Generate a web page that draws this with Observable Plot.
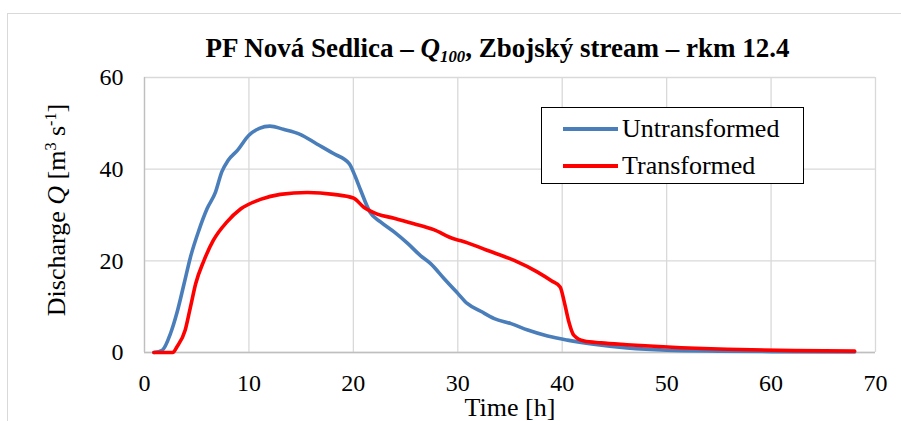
<!DOCTYPE html>
<html><head><meta charset="utf-8">
<script src="https://cdn.jsdelivr.net/npm/d3@7"></script>
<script src="https://cdn.jsdelivr.net/npm/@observablehq/plot@0.6"></script>
<style>
body{margin:0;background:#fff;}
#wrap{position:relative;width:901px;height:421px;overflow:hidden;font-family:"Liberation Serif","Times New Roman",serif;color:#000;}
#frame{position:absolute;left:7px;top:13px;width:900px;height:420px;border-left:1px solid #d9d9d9;border-top:1px solid #d9d9d9;}
#chart{position:absolute;left:0;top:0;}
#title{position:absolute;top:48px;left:0;width:995px;text-align:center;font-weight:bold;font-size:27px;white-space:nowrap;transform:translateY(-50%);line-height:30px;}
#title sub{font-size:0.62em;vertical-align:-0.3em;line-height:0;}
#ylab{position:absolute;left:57px;top:210px;transform:translate(-50%,-50%) rotate(-90deg);font-size:26px;white-space:nowrap;line-height:30px;}
#ylab sup{font-size:0.62em;vertical-align:0.55em;line-height:0;}
#xlab{position:absolute;left:510px;top:408px;transform:translate(-50%,-50%);font-size:26px;white-space:nowrap;line-height:26px;}
#legend{position:absolute;left:541px;top:107px;width:263px;height:77px;border:1px solid #000;background:#fff;box-sizing:border-box;}
.li{position:absolute;left:0;height:30px;font-size:26px;white-space:nowrap;}
.li span.sw{position:absolute;left:21px;top:13px;width:55px;height:4px;}
.li span.tx{position:absolute;left:80px;top:0;line-height:30px;}
</style></head>
<body>
<div id="wrap">
  <div id="frame"></div>
  <div id="chart"></div>
  <div id="title">PF Nová Sedlica – <i>Q</i><sub><i>100</i></sub>, Zbojský stream – rkm 12.4</div>
  <div id="ylab">Discharge <i>Q</i> [m<sup>3</sup> s<sup>-1</sup>]</div>
  <div id="xlab">Time [h]</div>
  <div id="legend"></div>
</div>
<script>
// Untransformed hydrograph (blue)
const untransformedTime = [0.9, 1.7, 2.5, 3.1, 3.8, 4.4, 5.2, 6.0, 6.8, 7.4, 8.0, 8.9, 10.0, 11.0, 12.0, 13.3, 14.9, 16.5, 18.1, 19.6, 20.2, 20.7, 21.6, 22.6, 23.9, 25.2, 26.4, 27.4, 28.7, 30.0, 30.9, 32.2, 33.5, 35.1, 36.7, 38.6, 40.5, 43.0, 46.2, 50.0, 55.0, 60.0, 68.0];
const untransformedQ    = [0.0, 0.5, 4.2, 8.6, 15.1, 20.8, 26.6, 31.4, 35.0, 39.4, 41.9, 44.1, 47.4, 48.9, 49.4, 48.7, 47.6, 45.5, 43.4, 41.2, 38.3, 35.4, 30.6, 28.5, 26.3, 23.8, 21.2, 19.4, 16.1, 12.9, 10.7, 9.0, 7.4, 6.3, 4.9, 3.6, 2.7, 1.8, 1.0, 0.5, 0.3, 0.2, 0.1];
// Transformed hydrograph (red)
const transformedTime = [0.9, 2.7, 3.1, 3.9, 4.4, 4.9, 5.7, 6.6, 7.9, 9.2, 11.1, 13.0, 15.6, 18.1, 20.0, 21.0, 22.3, 23.9, 25.8, 27.7, 29.6, 30.3, 32.8, 35.4, 37.6, 39.0, 39.8, 40.2, 40.6, 41.1, 42.1, 43.7, 46.2, 50.1, 55.8, 62.2, 68.0];
const transformedQ    = [0.0, 0.0, 1.2, 4.9, 9.9, 15.0, 20.1, 24.5, 28.5, 31.3, 33.4, 34.5, 34.9, 34.5, 33.7, 31.7, 30.2, 29.3, 28.1, 26.8, 24.8, 24.4, 22.3, 20.1, 17.6, 15.6, 14.3, 11.0, 7.0, 3.8, 2.5, 2.1, 1.7, 1.2, 0.7, 0.4, 0.3];
const seriesNames = ["Untransformed", "Transformed"];
const seriesColors = ["#4a7ebb", "#ff0000"];
const xTicks = [0, 10, 20, 30, 40, 50, 60, 70];
const yTicks = [0, 20, 40, 60];

const blue = untransformedTime.map((t, i) => ({t, q: untransformedQ[i]}));
const red = transformedTime.map((t, i) => ({t, q: transformedQ[i]}));

const plot = Plot.plot({
  width: 901,
  height: 440,
  marginTop: 77,
  marginBottom: 88,
  marginLeft: 144,
  marginRight: 26,
  style: {fontFamily: '"Liberation Serif","Times New Roman",serif', fontSize: "24px", color: "#000", background: "transparent"},
  x: {domain: [0, 70], ticks: xTicks, tickSize: 0, tickPadding: 21, label: null},
  y: {domain: [0, 60], ticks: yTicks, tickSize: 0, tickPadding: 21, label: null},
  marks: [
    Plot.gridX(xTicks, {stroke: "#d9d9d9", strokeOpacity: 1, strokeWidth: 1.3}),
    Plot.gridY(yTicks, {stroke: "#d9d9d9", strokeOpacity: 1, strokeWidth: 1.3}),
    Plot.ruleX([0], {stroke: "#bfbfbf", strokeWidth: 1.3}),
    Plot.ruleY([0], {stroke: "#bfbfbf", strokeWidth: 1.3}),
    Plot.line(blue, {x: "t", y: "q", stroke: seriesColors[0], strokeWidth: 3.6, curve: "monotone-x"}),
    Plot.line(red, {x: "t", y: "q", stroke: seriesColors[1], strokeWidth: 3.6, curve: "monotone-x"})
  ]
});
document.getElementById("chart").appendChild(plot);

const leg = document.getElementById("legend");
seriesNames.forEach((name, i) => {
  const d = document.createElement("div");
  d.className = "li";
  d.style.top = (6 + i * 37) + "px";
  d.innerHTML = `<span class="sw" style="background:${seriesColors[i]}"></span><span class="tx">${name}</span>`;
  leg.appendChild(d);
});
</script>
</body></html>
